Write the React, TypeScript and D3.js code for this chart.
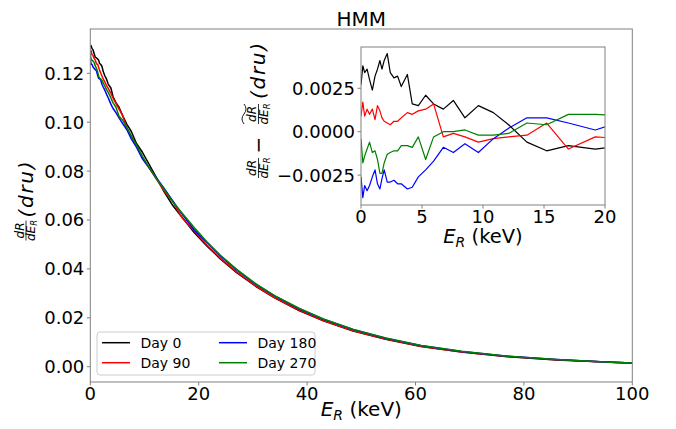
import React from 'react';
import * as d3 from 'd3';

const energy = [0, 0.15, 0.3, 0.5, 0.7, 0.93, 1.15, 1.35, 1.55, 1.72, 1.9, 2.15, 2.4, 2.7, 3.0, 3.3, 3.8, 4.2, 4.7, 5.3, 5.95, 6.75, 7.57, 8.52, 9.62, 10.85, 12.1, 13.6, 15.22, 17.0, 19.2, 21.5, 24, 27, 30.5, 34, 38.5, 43, 48.5, 54.5, 61, 68.5, 77, 86, 96, 100];

const meanRate = [0.1282, 0.1275, 0.1268, 0.1260, 0.1251, 0.1241, 0.1231, 0.1222, 0.1212, 0.1204, 0.1196, 0.1184, 0.1172, 0.1158, 0.1144, 0.1130, 0.1107, 0.1088, 0.1066, 0.1040, 0.1012, 0.0978, 0.0944, 0.0905, 0.0862, 0.0817, 0.0773, 0.0722, 0.0670, 0.0617, 0.0558, 0.0502, 0.0448, 0.0391, 0.0334, 0.0286, 0.0234, 0.0191, 0.0149, 0.0114, 0.0085, 0.0061, 0.0042, 0.0028, 0.0018, 0.0015];

const residDay0 = [0.0027, 0.0038, 0.0034, 0.0036, 0.0030, 0.0024, 0.0032, 0.0036, 0.0041, 0.0036, 0.0041, 0.0045, 0.0034, 0.0031, 0.0032, 0.0026, 0.0033, 0.0016, 0.0015, 0.0021, 0.0016, 0.0013, 0.0018, 0.0008, 0.0015, 0.0011, 0.0004, -0.0006, -0.0011, -0.0008, -0.0010, -0.0008, -0.0007, -0.0006, -0.0005, -0.0004, -0.0004, -0.0003, -0.0003, -0.0002, -0.0002, -0.0001, -0.0001, -0.0001, 0, 0];
const residDay90 = [0.0009, 0.0017, 0.0009, 0.0013, 0.0010, 0.0013, 0.0007, 0.0015, 0.0012, 0.0008, 0.0006, 0.0005, 0.0004, 0.0006, 0.0006, 0.0008, 0.0011, 0.0010, 0.0012, 0.0013, 0.0016, -0.0003, -0.0001, -0.0003, -0.0006, -0.0004, -0.0003, -0.0002, 0.0005, -0.0010, -0.0003, -0.0004, -0.0004, -0.0003, -0.0003, -0.0003, -0.0002, -0.0002, -0.0002, -0.0001, -0.0001, -0.0001, 0, 0, 0, 0];
const residDay180 = [-0.0026, -0.0038, -0.0031, -0.0034, -0.0031, -0.0026, -0.0022, -0.0030, -0.0033, -0.0027, -0.0022, -0.0029, -0.0029, -0.0028, -0.0030, -0.0030, -0.0033, -0.0032, -0.0026, -0.0022, -0.0017, -0.0009, -0.0012, -0.0007, -0.0012, -0.0004, 0.0002, 0.0008, 0.0008, 0.0005, 0.0001, 0.0006, 0.0005, 0.0005, 0.0004, 0.0004, 0.0003, 0.0003, 0.0003, 0.0002, 0.0002, 0.0001, 0.0001, 0.0001, 0, 0];
const residDay270 = [-0.0004, -0.0018, -0.0014, -0.0010, -0.0006, -0.0012, -0.0011, -0.0016, -0.0024, -0.0024, -0.0018, -0.0013, -0.0012, -0.0011, -0.0011, -0.0008, -0.0008, -0.0009, -0.0003, -0.0016, -0.0003, 0.0000, 0.0000, 0.0001, -0.0002, -0.0002, -0.0001, 0.0005, 0.0004, 0.0010, 0.0010, 0.0009, 0.0008, 0.0007, 0.0006, 0.0005, 0.0005, 0.0004, 0.0003, 0.0003, 0.0002, 0.0002, 0.0001, 0.0001, 0, 0];

const dayLabels = ['Day 0', 'Day 90', 'Day 180', 'Day 270'];
const dayColors = ['#000000', '#ff0000', '#0000ff', '#008000'];

const mainXTicks = [0, 20, 40, 60, 80, 100];
const mainYTicks = [0, 0.02, 0.04, 0.06, 0.08, 0.10, 0.12];
const insetXTicks = [0, 5, 10, 15, 20];
const insetYTicks = [-0.0025, 0, 0.0025];

const FONT = 'DejaVu Sans';
const SPINE = '#808080';

export default function App() {
  const W = 676, H = 429;
  const x = d3.scaleLinear().domain([0, 100]).range([90.3, 632.3]);
  const y = d3.scaleLinear().domain([0, 0.12]).range([366.7, 73.3]);
  const P = { l: 90.3, r: 632.3, t: 29, b: 382 };

  const ix = d3.scaleLinear().domain([0, 20]).range([361, 605]);
  const iy = d3.scaleLinear().domain([0, 0.0025]).range([131.7, 88.3]);
  const I = { l: 361, r: 605, t: 47, b: 205 };

  const resids = [residDay0, residDay90, residDay180, residDay270];

  const mainLine = d3.line<number>()
    .x((_, i) => x(energy[i]))
    .y((d) => y(d));
  const insetLine = d3.line<number>()
    .x((_, i) => ix(energy[i]))
    .y((d) => iy(d));

  const fmtMainY = d3.format('.2f');
  const fmtInsetY = (v: number) => (v < 0 ? '\u2212' : '') + d3.format('.4f')(Math.abs(v));

  return (
    <svg width={W} height={H} style={{ position: 'absolute', left: 0, top: 0, background: '#fff' }} fontFamily={FONT}>
      <defs>
        <clipPath id="mainClip"><rect x={P.l} y={P.t} width={P.r - P.l} height={P.b - P.t} /></clipPath>
        <clipPath id="insetClip"><rect x={I.l} y={I.t} width={I.r - I.l} height={I.b - I.t} /></clipPath>
      </defs>
      <rect x={0} y={0} width={W} height={H} fill="#fff" />

      {/* main curves */}
      <g clipPath="url(#mainClip)">
        {resids.map((r, k) => (
          <path key={k} d={mainLine(meanRate.map((m, i) => m + r[i])) || ''} fill="none" stroke={dayColors[k]} strokeWidth={1.5} strokeLinejoin="round" />
        ))}
      </g>

      {/* main frame */}
      <rect x={P.l} y={P.t} width={P.r - P.l} height={P.b - P.t} fill="none" stroke={SPINE} strokeWidth={1} />

      {/* main x ticks */}
      {mainXTicks.map((t) => (
        <g key={'mx' + t}>
          <line x1={x(t)} x2={x(t)} y1={P.b} y2={P.b + 3.5} stroke={SPINE} />
          <text x={x(t)} y={P.b + 18} fontSize={18} textAnchor="middle" fill="#000">{t}</text>
        </g>
      ))}
      {/* main y ticks */}
      {mainYTicks.map((t) => (
        <g key={'my' + t}>
          <line x1={P.l - 3.5} x2={P.l} y1={y(t)} y2={y(t)} stroke={SPINE} />
          <text x={P.l - 6} y={y(t)} dy="0.36em" fontSize={18} textAnchor="end" fill="#000">{fmtMainY(t)}</text>
        </g>
      ))}

      {/* title */}
      <text x={(P.l + P.r) / 2} y={25.5} fontSize={20} textAnchor="middle" fill="#000">HMM</text>

      {/* main x label */}
      <text x={(P.l + P.r) / 2} y={416} fontSize={20} textAnchor="middle" fill="#000">
        <tspan fontStyle="italic">E</tspan>
        <tspan fontSize={14} fontStyle="italic" dy={4}>R</tspan>
        <tspan dy={-4}> (keV)</tspan>
      </text>

      {/* main y label */}
      <g transform={`translate(32.5, ${(P.t + P.b) / 2}) rotate(-90)`}>
        <text x={-25} y={-9} fontSize={12} fontStyle="italic" textAnchor="middle">dR</text>
        <line x1={-35} x2={-15} y1={-6.5} y2={-6.5} stroke="#000" strokeWidth={0.8} />
        <text x={-25} y={2.5} fontSize={12} textAnchor="middle" fontStyle="italic">
          <tspan>dE</tspan>
          <tspan fontSize={8.5} dy={2}>R</tspan>
        </text>
        <text x={-12} y={0} fontSize={20} fontStyle="italic" textLength={56} lengthAdjust="spacing">(dru)</text>
      </g>

      {/* legend */}
      <g>
        <rect x={97} y={332} width={218} height={43} rx={3} fill="#fff" fillOpacity={0.8} stroke="#cccccc" />
        {dayLabels.map((lab, k) => {
          const col = Math.floor(k / 2);
          const row = k % 2;
          const lx = col === 0 ? 102 : 219;
          const ly = 342.7 + row * 20;
          return (
            <g key={lab}>
              <line x1={lx} x2={lx + 28} y1={ly} y2={ly} stroke={dayColors[k]} strokeWidth={1.5} />
              <text x={lx + 38.5} y={ly} dy="0.36em" fontSize={14} fill="#000">{lab}</text>
            </g>
          );
        })}
      </g>

      {/* inset */}
      <rect x={I.l} y={I.t} width={I.r - I.l} height={I.b - I.t} fill="#fff" />
      <g clipPath="url(#insetClip)">
        {resids.map((r, k) => (
          <path key={k} d={insetLine(r) || ''} fill="none" stroke={dayColors[k]} strokeWidth={1.2} strokeLinejoin="round" />
        ))}
      </g>
      <rect x={I.l} y={I.t} width={I.r - I.l} height={I.b - I.t} fill="none" stroke={SPINE} strokeWidth={1} />
      {insetXTicks.map((t) => (
        <g key={'ix' + t}>
          <line x1={ix(t)} x2={ix(t)} y1={I.b} y2={I.b + 3.5} stroke={SPINE} />
          <text x={ix(t)} y={I.b + 17.5} fontSize={18} textAnchor="middle" fill="#000">{t}</text>
        </g>
      ))}
      {insetYTicks.map((t) => (
        <g key={'iy' + t}>
          <line x1={I.l - 3.5} x2={I.l} y1={iy(t)} y2={iy(t)} stroke={SPINE} />
          <text x={I.l - 6} y={iy(t)} dy="0.36em" fontSize={18} textAnchor="end" fill="#000">{fmtInsetY(t)}</text>
        </g>
      ))}
      <text x={(I.l + I.r) / 2} y={242.5} fontSize={19.5} textAnchor="middle" fill="#000">
        <tspan fontStyle="italic">E</tspan>
        <tspan fontSize={14} fontStyle="italic" dy={4}>R</tspan>
        <tspan dy={-4}> (keV)</tspan>
      </text>

      {/* inset y label */}
      <g transform={`translate(265, ${(I.t + I.b) / 2}) rotate(-90)`}>
        <text x={-42} y={-9} fontSize={12} fontStyle="italic" textAnchor="middle">dR</text>
        <line x1={-52} x2={-32} y1={-6.5} y2={-6.5} stroke="#000" strokeWidth={0.8} />
        <text x={-42} y={2.5} fontSize={12} textAnchor="middle" fontStyle="italic">
          <tspan>dE</tspan>
          <tspan fontSize={8.5} dy={2}>R</tspan>
        </text>
        <text x={-19} y={0} fontSize={20} textAnchor="middle">{'\u2212'}</text>
        <path d="M 2 -21 Q 7 -25 12 -21 T 22 -21" fill="none" stroke="#000" strokeWidth={0.9} />
        <text x={12} y={-9} fontSize={12} fontStyle="italic" textAnchor="middle">dR</text>
        <line x1={2} x2={22} y1={-6.5} y2={-6.5} stroke="#000" strokeWidth={0.8} />
        <text x={12} y={2.5} fontSize={12} textAnchor="middle" fontStyle="italic">
          <tspan>dE</tspan>
          <tspan fontSize={8.5} dy={2}>R</tspan>
        </text>
        <text x={27} y={0} fontSize={20} fontStyle="italic" textLength={56} lengthAdjust="spacing">(dru)</text>
      </g>
    </svg>
  );
}
